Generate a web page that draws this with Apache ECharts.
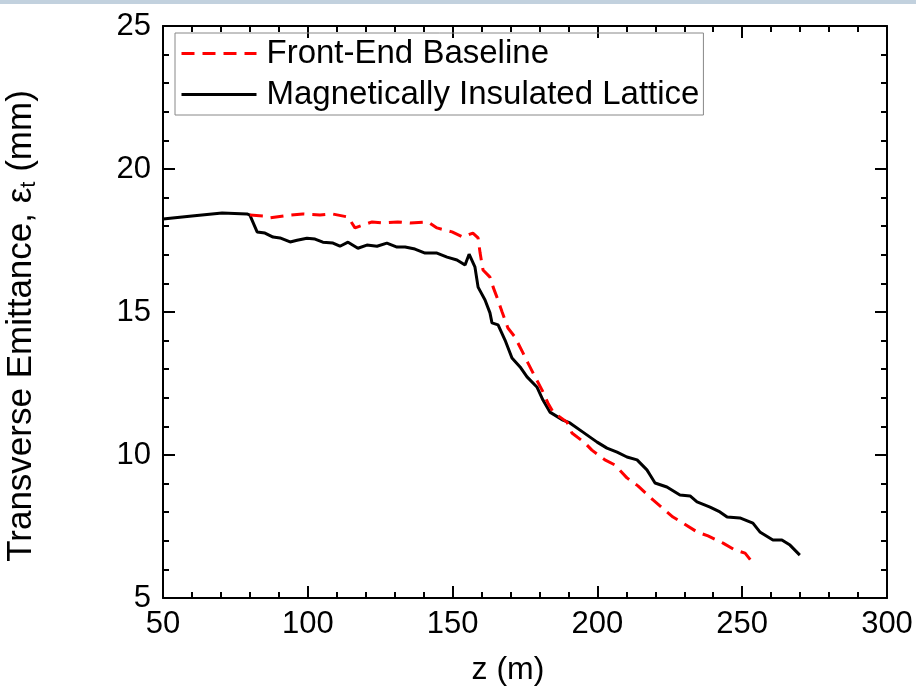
<!DOCTYPE html>
<html>
<head>
<meta charset="utf-8">
<script src="https://cdn.jsdelivr.net/npm/echarts@6/dist/echarts.min.js"></script>
<style>
  html, body { margin: 0; padding: 0; background: #fff; }
  #chart { width: 916px; height: 686px; }
</style>
</head>
<body>
<div id="chart"></div>
<script>
// values: z (m), emittance (mm)
var baselineZ = [80, 84.5, 87, 93.9, 98.3, 104.2, 108.4, 113.9, 116.3, 122.2, 126, 131.1, 135.3, 141.5, 144.6, 149.8, 153.6, 157, 158.8, 159.5, 160.5, 162.9, 164, 165.3, 167.1, 169.1, 171.5, 174.3, 176, 178.5, 180.9, 182.9, 184.7, 189.5, 191.2, 195.7, 198.1, 202.6, 206.1, 210.2, 214, 219.2, 221.6, 226.1, 229.6, 234.4, 238.2, 243.4, 247.5, 251, 253.7];
var baselineEmit = [18.39, 18.36, 18.29, 18.39, 18.43, 18.39, 18.43, 18.32, 17.94, 18.15, 18.11, 18.15, 18.11, 18.15, 17.94, 17.8, 17.62, 17.76, 17.59, 17.06, 16.47, 16.22, 15.87, 15.52, 15.0, 14.44, 14.13, 13.57, 13.22, 12.73, 12.27, 11.82, 11.5, 11.15, 10.77, 10.42, 10.17, 9.83, 9.65, 9.2, 8.92, 8.43, 8.22, 7.83, 7.62, 7.31, 7.17, 6.92, 6.68, 6.57, 6.22];

var insulatedZ = [50, 60, 70.4, 79, 80, 82.5, 85.2, 88, 90.4, 93.9, 96.3, 99.7, 102.5, 105.2, 108.7, 111.1, 113.9, 117.3, 120.4, 123.9, 127.3, 130.8, 133.6, 137, 140.5, 144.6, 148.1, 151.5, 154.3, 155.7, 157.7, 158.8, 161.2, 162.9, 163.6, 165.7, 168.1, 170.5, 173.3, 175.7, 179.1, 181.2, 183.6, 188.1, 190.5, 195, 199.9, 203.3, 206.8, 210.2, 213.7, 217.1, 218.2, 219.9, 224, 228.5, 232, 234.4, 238.9, 242.3, 244.8, 249.2, 253.7, 256.1, 260.6, 263.7, 266.5, 269.9];
var insulatedEmit = [18.25, 18.36, 18.46, 18.43, 18.39, 17.8, 17.76, 17.62, 17.59, 17.45, 17.51, 17.58, 17.55, 17.44, 17.41, 17.3, 17.44, 17.23, 17.34, 17.3, 17.41, 17.27, 17.27, 17.2, 17.06, 17.06, 16.92, 16.82, 16.64, 17.02, 16.58, 15.87, 15.42, 14.97, 14.62, 14.55, 14.02, 13.39, 13.08, 12.73, 12.38, 11.92, 11.5, 11.22, 11.12, 10.8, 10.45, 10.24, 10.1, 9.93, 9.83, 9.48, 9.3, 9.02, 8.88, 8.6, 8.57, 8.36, 8.18, 8.01, 7.83, 7.8, 7.62, 7.31, 7.03, 7.03, 6.85, 6.5];

var seriesNames = ['Front-End Baseline', 'Magnetically Insulated Lattice'];

function pairs(xs, ys) {
  return xs.map(function (x, i) { return [x, ys[i]]; });
}

var font = 'Liberation Sans, Arial, sans-serif';

var chart = echarts.init(document.getElementById('chart'));

// one axis style for all four sides, only bottom/left get labels
function axis(extra) {
  var base = {
    type: 'value',
    axisLine: { show: true, onZero: false, lineStyle: { color: '#000', width: 2 } },
    axisTick: { show: true, inside: true, length: 12, lineStyle: { color: '#000', width: 2 } },
    minorTick: { show: true, splitNumber: 5, length: 6, lineStyle: { color: '#000', width: 2 } },
    splitLine: { show: false },
    axisLabel: { show: false }
  };
  return Object.assign(base, extra);
}

var option = {
  backgroundColor: '#fff',
  animation: false,
  graphic: [
    { type: 'rect', left: 0, top: 0, shape: { width: 916, height: 4 }, style: { fill: '#c2d1de' } }
  ],
  grid: { left: 163, right: 29, top: 26, bottom: 88, outerBoundsMode: 'none' },
  legend: {
    data: seriesNames,
    orient: 'vertical',
    left: 175,
    top: 33,
    padding: [2, 4, 2, 5],
    itemGap: 4,
    itemWidth: 75,
    itemHeight: 14,
    borderColor: '#888',
    borderWidth: 1,
    itemStyle: { opacity: 0 },
    lineStyle: { width: 3 },
    textStyle: { fontFamily: font, fontSize: 33, color: '#000', lineHeight: 37, padding: [0, 0, 0, 5] }
  },
  xAxis: [
    axis({
      min: 50, max: 300, interval: 50, position: 'bottom',
      name: 'z (m)', nameLocation: 'middle', nameGap: 56,
      nameTextStyle: { fontFamily: font, fontSize: 32, color: '#000', padding: [0, 34, 0, 0] },
      axisLabel: { show: true, fontFamily: font, fontSize: 31, color: '#000', margin: 11 }
    }),
    axis({ min: 50, max: 300, interval: 50, position: 'top' })
  ],
  yAxis: [
    axis({
      min: 5, max: 25, interval: 5, position: 'left',
      name: '{a|Transverse Emittance, ε}{s|t}{a| (mm)}',
      nameLocation: 'middle', nameGap: 123, nameRotate: 90,
      nameTextStyle: {
        padding: [0, 28, 0, 0],
        rich: {
          a: { fontFamily: font, fontSize: 35, color: '#000' },
          s: { fontFamily: font, fontSize: 22, color: '#000', padding: [16, 0, 0, 0] }
        }
      },
      axisLabel: { show: true, fontFamily: font, fontSize: 31, color: '#000', margin: 12 }
    }),
    axis({ min: 5, max: 25, interval: 5, position: 'right' })
  ],
  series: [
    {
      name: seriesNames[0],
      type: 'line',
      data: pairs(baselineZ, baselineEmit),
      showSymbol: false,
      symbol: 'none',
      lineStyle: { color: '#ff0000', width: 3, type: [13, 8] },
      itemStyle: { color: '#ff0000' },
      z: 3
    },
    {
      name: seriesNames[1],
      type: 'line',
      data: pairs(insulatedZ, insulatedEmit),
      showSymbol: false,
      symbol: 'none',
      lineStyle: { color: '#000', width: 3 },
      itemStyle: { color: '#000' },
      z: 2
    }
  ]
};

chart.setOption(option);
</script>
</body>
</html>
